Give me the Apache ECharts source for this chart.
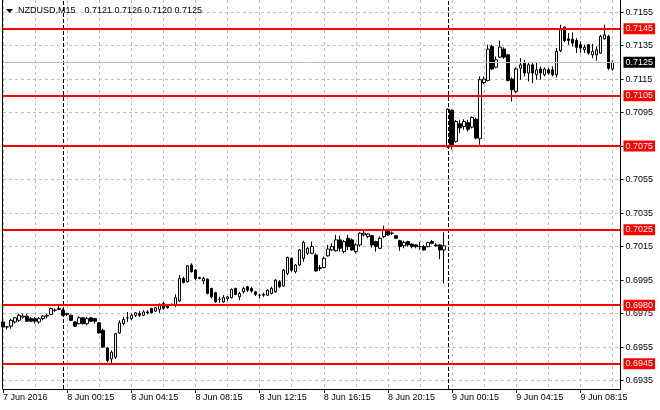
<!DOCTYPE html>
<html><head><meta charset="utf-8">
<script src="https://cdn.jsdelivr.net/npm/echarts/dist/echarts.min.js"></script>
<style>html,body{margin:0;padding:0;background:#fff}#c{width:660px;height:410px}</style>
</head><body><div id="c"></div>
<script>
// ---- data ----
const symbolName = 'NZDUSD,M15';
const headerValues = '0.7121 0.7126 0.7120 0.7125';
const xTickLabels = ['7 Jun 2016','8 Jun 00:15','8 Jun 04:15','8 Jun 08:15','8 Jun 12:15','8 Jun 16:15','8 Jun 20:15','9 Jun 00:15','9 Jun 04:15','9 Jun 08:15'];
const yTicks = [0.6935,0.6955,0.6975,0.6995,0.7015,0.7035,0.7055,0.7075,0.7095,0.7115,0.7135,0.7155];
const levels = [0.7145,0.7105,0.7075,0.7025,0.6980,0.6945];
const lastPrice = 0.7125;
const daySeparators = ['2016-06-08 00:00','2016-06-09 00:00'];
const yMin = 0.6930, yMax = 0.71622;

const open = [
.69700,.69670,.69675,.69700,.69710,.69730,.69735,.69720,.69720,.69700,
.69720,.69735,.69745,.69770,.69775,.69770,.69750,.69740,.69700,.69690,
.69725,.69690,.69725,.69720,.69695,.69650,.69545,.69480,.69490,.69635,
.69690,.69725,.69720,.69740,.69750,.69740,.69760,.69780,.69765,.69775,
.69810,.69800,.69805,.69805,.69825,.69960,.69940,.70040,.70010,.69960,
.69945,.69955,.69900,.69875,.69835,.69820,.69840,.69845,.69900,.69850,
.69880,.69910,.69900,.69880,.69860,.69860,.69860,.69870,.69880,.69940,
.69915,.69990,.70080,.70000,.70040,.70080,.70110,.70110,.70100,.70020,
.70025,.70095,.70130,.70125,.70190,.70120,.70200,.70190,.70120,.70160,
.70220,.70210,.70215,.70180,.70140,.70210,.70240,.70230,.70215,.70185,
.70155,.70180,.70165,.70160,.70150,.70150,.70150,.70180,.70160,.70160,
.70130,.70744,.70963,.70778,.70883,.70867,.70890,.70863,.70910,.70794,
.71129,.71142,.71345,.71221,.71281,.71329,.71295,.71150,.71076,.71215,
.71245,.71186,.71235,.71176,.71210,.71176,.71205,.71205,.71176,.71320,
.71460,.71390,.71388,.71380,.71355,.71325,.71355,.71295,.71295,.71305,
.71390,.71404,.71210];
const close = [
.69670,.69672,.69710,.69725,.69740,.69735,.69705,.69705,.69705,.69720,
.69735,.69740,.69780,.69770,.69780,.69740,.69745,.69710,.69675,.69725,
.69690,.69720,.69705,.69705,.69635,.69550,.69470,.69520,.69630,.69695,
.69715,.69725,.69740,.69755,.69740,.69760,.69755,.69755,.69785,.69805,
.69780,.69785,.69805,.69845,.69960,.69935,.70035,.70000,.69960,.69965,
.69960,.69870,.69850,.69820,.69835,.69845,.69850,.69895,.69865,.69870,
.69900,.69890,.69885,.69865,.69860,.69865,.69890,.69900,.69950,.69910,
.70010,.70085,.70010,.70040,.70130,.70175,.70140,.70150,.70005,.70025,
.70080,.70135,.70150,.70190,.70140,.70180,.70150,.70130,.70160,.70230,
.70230,.70225,.70160,.70150,.70200,.70250,.70220,.70230,.70200,.70150,
.70175,.70160,.70150,.70150,.70150,.70130,.70175,.70170,.70155,.70130,
.70155,.70970,.70752,.70897,.70858,.70897,.70850,.70920,.70798,.71146,
.71150,.71329,.71210,.71265,.71341,.71281,.71142,.71086,.71210,.71235,
.71186,.71235,.71186,.71205,.71186,.71210,.71186,.71176,.71315,.71444,
.71380,.71380,.71365,.71340,.71335,.71340,.71305,.71315,.71325,.71404,
.71414,.71215,.71250];
const high = [
.69710,.69675,.69720,.69730,.69750,.69750,.69750,.69730,.69730,.69730,
.69740,.69750,.69785,.69780,.69795,.69780,.69755,.69745,.69705,.69735,
.69730,.69730,.69730,.69725,.69700,.69660,.69550,.69530,.69635,.69710,
.69730,.69760,.69750,.69760,.69765,.69770,.69770,.69785,.69790,.69810,
.69820,.69805,.69810,.69865,.69980,.69970,.70040,.70050,.70015,.69970,
.69970,.69960,.69905,.69880,.69850,.69860,.69855,.69900,.69905,.69880,
.69910,.69915,.69910,.69885,.69870,.69875,.69895,.69910,.69955,.69950,
.70015,.70090,.70085,.70045,.70135,.70185,.70150,.70180,.70110,.70040,
.70090,.70160,.70170,.70220,.70215,.70190,.70220,.70200,.70170,.70235,
.70245,.70230,.70220,.70185,.70210,.70275,.70245,.70240,.70220,.70190,
.70185,.70185,.70170,.70165,.70180,.70160,.70180,.70190,.70170,.70165,
.70235,.70975,.70970,.70905,.70907,.70910,.70907,.70927,.70920,.71166,
.71166,.71355,.71355,.71285,.71380,.71340,.71300,.71160,.71220,.71275,
.71265,.71245,.71245,.71250,.71225,.71220,.71215,.71225,.71335,.71474,
.71464,.71424,.71428,.71395,.71375,.71355,.71360,.71360,.71345,.71414,
.71474,.71414,.71260];
const low = [
.69660,.69655,.69660,.69690,.69700,.69720,.69700,.69700,.69690,.69690,
.69710,.69720,.69740,.69760,.69770,.69735,.69735,.69705,.69670,.69685,
.69685,.69680,.69700,.69690,.69630,.69545,.69460,.69450,.69480,.69630,
.69680,.69700,.69710,.69730,.69730,.69735,.69745,.69750,.69760,.69755,
.69775,.69780,.69795,.69790,.69820,.69930,.69935,.69995,.69950,.69955,
.69925,.69865,.69840,.69815,.69815,.69815,.69825,.69840,.69860,.69830,
.69870,.69880,.69875,.69855,.69840,.69850,.69855,.69865,.69875,.69905,
.69910,.69980,.70000,.69990,.70035,.70060,.70100,.70105,.70000,.70005,
.70020,.70090,.70125,.70120,.70120,.70110,.70130,.70125,.70110,.70150,
.70210,.70200,.70145,.70120,.70135,.70200,.70215,.70220,.70195,.70125,
.70140,.70150,.70140,.70140,.70130,.70125,.70145,.70165,.70150,.70075,
.69930,.70738,.70730,.70770,.70827,.70847,.70837,.70855,.70790,.70758,
.71120,.71136,.71205,.71215,.71275,.71270,.71136,.71016,.71066,.71146,
.71166,.71136,.71126,.71146,.71146,.71166,.71176,.71166,.71160,.71310,
.71370,.71355,.71345,.71305,.71305,.71305,.71295,.71275,.71260,.71300,
.71385,.71205,.71200];

// 15-minute bar times (categories), plus two empty slots on the right
const categories = [];
const t0 = Date.UTC(2016, 5, 7, 20, 15);
const pad = n => String(n).padStart(2, '0');
for (let k = 0; k < open.length + 2; k++) {
  const d = new Date(t0 + k * 15 * 60000);
  categories.push(d.getUTCFullYear() + '-' + pad(d.getUTCMonth() + 1) + '-' + pad(d.getUTCDate()) + ' ' + pad(d.getUTCHours()) + ':' + pad(d.getUTCMinutes()));
}
const ohlc = open.map((o, k) => [o, close[k], low[k], high[k]]);

// ---- chart ----
const FONT = '"Liberation Sans", Arial, sans-serif';
const chart = echarts.init(document.getElementById('c'), null, { renderer: 'canvas' });
const labelBox = bg => ({
  show: true, position: 'end', distance: 3, formatter: p => Number(p.value).toFixed(4),
  color: '#fff', backgroundColor: bg, padding: [1, 2, 0, 2],
  fontSize: 9, fontFamily: FONT, lineHeight: 10
});
chart.setOption({
  animation: false,
  backgroundColor: '#fff',
  grid: { left: 3, top: 0, width: 617.5, height: 389, containLabel: false },
  xAxis: {
    type: 'category', data: categories, boundaryGap: false,
    axisLine: { show: true, lineStyle: { color: '#000', width: 1 } },
    axisTick: { show: true, interval: 15, length: 4, lineStyle: { color: '#000' } },
    axisLabel: {
      interval: 15, align: 'left', margin: 4, color: '#000', fontSize: 9, fontFamily: FONT,
      formatter: (v, idx) => xTickLabels[Math.round(idx / 16)] || ''
    },
    splitLine: { show: true, interval: 7, lineStyle: { color: '#c0c0c0', type: [3, 3], width: 1 } }
  },
  yAxis: {
    type: 'value', position: 'right', min: yMin, max: yMax, scale: true,
    axisLine: { show: true, lineStyle: { color: '#000', width: 1 } },
    axisTick: { show: true, length: 3, customValues: yTicks, lineStyle: { color: '#000' } },
    axisLabel: { customValues: yTicks, formatter: v => v.toFixed(4), margin: 5, color: '#000', fontSize: 9, fontFamily: FONT },
    splitLine: { show: true, lineStyle: { color: '#c0c0c0', type: [3, 3], width: 1 } }
  },
  series: [{
    type: 'candlestick', data: ohlc, barWidth: 3,
    itemStyle: { color: '#fff', color0: '#000', borderColor: '#000', borderColor0: '#000', borderWidth: 1 },
    markLine: {
      silent: true, symbol: ['none', 'none'], animation: false, z: 5, precision: 4,
      data: [
        ...daySeparators.map(c => ({ xAxis: c, lineStyle: { color: '#000', type: [4, 2], width: 1 }, label: { show: false } })),
        { yAxis: lastPrice, lineStyle: { color: '#c0c0c0', type: 'solid', width: 1 }, label: labelBox('#000') },
        ...levels.map(v => ({ yAxis: v, lineStyle: { color: '#ff0000', type: 'solid', width: 2 }, label: labelBox('#ff0000') }))
      ]
    }
  }],
  graphic: [
    { type: 'line', shape: { x1: 2.5, y1: 0, x2: 2.5, y2: 389 }, style: { stroke: '#000', lineWidth: 1 }, z: 10 },
    { type: 'polygon', shape: { points: [[6, 9], [13, 9], [9.5, 13]] }, style: { fill: '#000' }, z: 10 },
    { type: 'text', left: 18, top: 6, style: { text: symbolName, fill: '#000', font: '9px ' + FONT }, z: 10 },
    { type: 'text', left: 84.5, top: 6, style: { text: headerValues, fill: '#000', font: '9px ' + FONT }, z: 10 }
  ]
});
</script></body></html>
